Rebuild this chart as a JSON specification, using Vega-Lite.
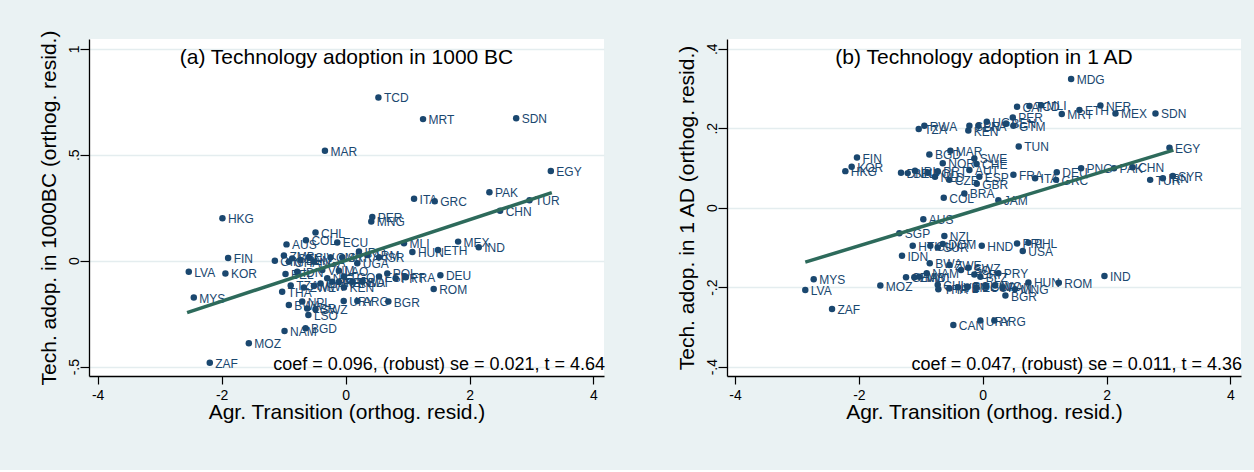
{
  "$schema": "https://vega.github.io/schema/vega-lite/v6.json",
  "background": "#EAF2F3",
  "padding": {"left": 38, "top": 30, "right": 14, "bottom": 48},
  "spacing": 71,
  "config": {
    "font": "Liberation Sans",
    "view": {"fill": "white", "stroke": null},
    "axis": {
      "domainColor": "#000000",
      "domainWidth": 1.3,
      "tickColor": "#000000",
      "tickWidth": 1.2,
      "labelColor": "#000000",
      "titleColor": "#000000",
      "labelFontSize": 14,
      "titleFontSize": 21,
      "titleFontWeight": "normal",
      "gridColor": "#E4EDEF",
      "gridWidth": 1.3
    }
  },
  "datasets": {
    "a": [
      {"code": "TCD", "x": 0.53, "y": 0.77},
      {"code": "MRT", "x": 1.25, "y": 0.668},
      {"code": "SDN", "x": 2.753, "y": 0.672},
      {"code": "MAR", "x": -0.333, "y": 0.519},
      {"code": "EGY", "x": 3.312, "y": 0.423},
      {"code": "PAK", "x": 2.321, "y": 0.323},
      {"code": "TUR", "x": 2.968, "y": 0.285},
      {"code": "CHN", "x": 2.494, "y": 0.236},
      {"code": "ITA", "x": 1.105, "y": 0.292},
      {"code": "GRC", "x": 1.438, "y": 0.28},
      {"code": "PER", "x": 0.431, "y": 0.206},
      {"code": "MNG", "x": 0.415, "y": 0.185},
      {"code": "HKG", "x": -1.987, "y": 0.2},
      {"code": "CHL", "x": -0.485, "y": 0.133},
      {"code": "COL", "x": -0.64, "y": 0.097},
      {"code": "ECU", "x": -0.134, "y": 0.086},
      {"code": "AUS", "x": -0.953, "y": 0.077},
      {"code": "MLI", "x": 0.943, "y": 0.082},
      {"code": "HUN", "x": 1.078, "y": 0.041},
      {"code": "ETH", "x": 1.492, "y": 0.05},
      {"code": "MEX", "x": 1.816, "y": 0.09},
      {"code": "IND", "x": 2.149, "y": 0.063},
      {"code": "FIN", "x": -1.895, "y": 0.013},
      {"code": "LVA", "x": -2.53, "y": -0.052},
      {"code": "KOR", "x": -1.939, "y": -0.06},
      {"code": "MYS", "x": -2.449, "y": -0.174},
      {"code": "MOZ", "x": -1.561, "y": -0.39},
      {"code": "ZAF", "x": -2.191, "y": -0.481},
      {"code": "NAM", "x": -0.985, "y": -0.332},
      {"code": "BGD", "x": -0.646, "y": -0.319},
      {"code": "LSO", "x": -0.6, "y": -0.256},
      {"code": "SWZ", "x": -0.485, "y": -0.229},
      {"code": "BWA", "x": -0.915, "y": -0.209},
      {"code": "NPL", "x": -0.7, "y": -0.193},
      {"code": "LBR", "x": -0.619, "y": -0.225},
      {"code": "THA", "x": -1.023, "y": -0.146},
      {"code": "URY", "x": -0.03, "y": -0.19},
      {"code": "ARG", "x": 0.19, "y": -0.19},
      {"code": "BGR", "x": 0.69, "y": -0.193},
      {"code": "ROM", "x": 1.422, "y": -0.134},
      {"code": "DEU", "x": 1.53, "y": -0.069},
      {"code": "POL", "x": 0.673, "y": -0.06},
      {"code": "PRT", "x": 0.808, "y": -0.083},
      {"code": "FRA", "x": 0.97, "y": -0.078},
      {"code": "KEN", "x": -0.026, "y": -0.126},
      {"code": "LAO", "x": -0.108, "y": -0.047},
      {"code": "UGA", "x": 0.189, "y": -0.012},
      {"code": "ZMB", "x": -0.995, "y": 0.024},
      {"code": "GIN", "x": -1.141, "y": 0.0},
      {"code": "GHA", "x": -0.915, "y": -0.005},
      {"code": "SEN", "x": -0.861, "y": 0.011},
      {"code": "BEN", "x": -0.727, "y": 0.003},
      {"code": "CIV", "x": -0.591, "y": 0.016},
      {"code": "NGA", "x": -0.511, "y": -0.005},
      {"code": "CMR", "x": -0.242, "y": 0.016},
      {"code": "SYR", "x": -0.053, "y": 0.016},
      {"code": "IRQ", "x": 0.216, "y": 0.043},
      {"code": "ARM", "x": 0.351, "y": 0.027},
      {"code": "ISR", "x": 0.54, "y": 0.016},
      {"code": "BEL", "x": -0.969, "y": -0.063},
      {"code": "IDN", "x": -0.78, "y": -0.052},
      {"code": "VNM", "x": -0.376, "y": -0.044},
      {"code": "NIC", "x": -0.296, "y": -0.083},
      {"code": "TZA", "x": -0.885, "y": -0.117},
      {"code": "ZWE", "x": -0.672, "y": -0.126},
      {"code": "MWI", "x": -0.511, "y": -0.119},
      {"code": "CAF", "x": -0.404, "y": -0.107},
      {"code": "BFA", "x": -0.215, "y": -0.099},
      {"code": "NER", "x": -0.107, "y": -0.099},
      {"code": "RWA", "x": 0.108, "y": -0.099},
      {"code": "BDI", "x": 0.27, "y": -0.099},
      {"code": "ESP", "x": 0.54, "y": -0.075},
      {"code": "TGO", "x": -0.026, "y": -0.075}
    ],
    "b": [
      {"code": "MDG", "x": 1.427, "y": 0.324},
      {"code": "NER", "x": 1.9, "y": 0.257},
      {"code": "ETH", "x": 1.561, "y": 0.246},
      {"code": "MEX", "x": 2.143, "y": 0.237},
      {"code": "SDN", "x": 2.789, "y": 0.237},
      {"code": "MRT", "x": 1.276, "y": 0.236},
      {"code": "MLI", "x": 0.942, "y": 0.258},
      {"code": "TCD", "x": 0.754, "y": 0.256},
      {"code": "CAF", "x": 0.554, "y": 0.254},
      {"code": "PER", "x": 0.485, "y": 0.227},
      {"code": "UGA", "x": 0.065, "y": 0.216},
      {"code": "GTM", "x": 0.495, "y": 0.206},
      {"code": "BEN", "x": 0.376, "y": 0.212},
      {"code": "SEN", "x": -0.216, "y": 0.206},
      {"code": "BFA", "x": -0.071, "y": 0.206},
      {"code": "KEN", "x": -0.233, "y": 0.194},
      {"code": "RWA", "x": -0.943, "y": 0.206},
      {"code": "TZA", "x": -1.034, "y": 0.198},
      {"code": "TUN", "x": 0.581, "y": 0.154},
      {"code": "EGY", "x": 3.015, "y": 0.151},
      {"code": "CHN", "x": 2.42, "y": 0.102},
      {"code": "PAK", "x": 2.12, "y": 0.099},
      {"code": "TUR", "x": 2.703, "y": 0.07},
      {"code": "IRN", "x": 2.908, "y": 0.074},
      {"code": "SYR", "x": 3.069, "y": 0.08},
      {"code": "PNG", "x": 1.588, "y": 0.099},
      {"code": "DEU", "x": 1.195, "y": 0.089},
      {"code": "GRC", "x": 1.184, "y": 0.07},
      {"code": "ITA", "x": 0.845, "y": 0.074},
      {"code": "FRA", "x": 0.495, "y": 0.083},
      {"code": "ESP", "x": -0.055, "y": 0.078},
      {"code": "GBR", "x": -0.097, "y": 0.06},
      {"code": "BRA", "x": -0.297, "y": 0.036},
      {"code": "COL", "x": -0.63, "y": 0.025},
      {"code": "JAM", "x": 0.252, "y": 0.019},
      {"code": "MAR", "x": -0.523, "y": 0.143},
      {"code": "BGD", "x": -0.862, "y": 0.134},
      {"code": "NOR", "x": -0.646, "y": 0.112},
      {"code": "SWE", "x": -0.136, "y": 0.124},
      {"code": "CHE", "x": -0.1, "y": 0.11},
      {"code": "AUT", "x": -0.216, "y": 0.095},
      {"code": "FIN", "x": -2.031, "y": 0.126},
      {"code": "KOR", "x": -2.117, "y": 0.103},
      {"code": "HKG", "x": -2.219, "y": 0.092},
      {"code": "DNK", "x": -1.32, "y": 0.088},
      {"code": "BEL", "x": -1.212, "y": 0.087},
      {"code": "IRL", "x": -1.094, "y": 0.093},
      {"code": "POL", "x": -0.889, "y": 0.088},
      {"code": "NLD", "x": -0.771, "y": 0.078},
      {"code": "PRT", "x": -0.727, "y": 0.092},
      {"code": "CZE", "x": -0.54, "y": 0.07},
      {"code": "AUS", "x": -0.96, "y": -0.029},
      {"code": "SGP", "x": -1.347, "y": -0.064},
      {"code": "NZL", "x": -0.62, "y": -0.071},
      {"code": "HTI", "x": -1.131, "y": -0.096},
      {"code": "DOM", "x": -0.646, "y": -0.091},
      {"code": "GUY", "x": -0.847, "y": -0.096},
      {"code": "SUR", "x": -0.727, "y": -0.1},
      {"code": "HND", "x": -0.016, "y": -0.096},
      {"code": "PRI", "x": 0.554, "y": -0.09},
      {"code": "PHL", "x": 0.737, "y": -0.088},
      {"code": "USA", "x": 0.646, "y": -0.109},
      {"code": "IDN", "x": -1.304, "y": -0.121},
      {"code": "BWA", "x": -0.856, "y": -0.14},
      {"code": "ZWE", "x": -0.539, "y": -0.144},
      {"code": "NAM", "x": -0.905, "y": -0.165},
      {"code": "MWI", "x": -1.024, "y": -0.174},
      {"code": "ZMB", "x": -1.105, "y": -0.175},
      {"code": "GHA", "x": -1.239, "y": -0.175},
      {"code": "MYS", "x": -2.73, "y": -0.18},
      {"code": "LVA", "x": -2.866, "y": -0.207},
      {"code": "MOZ", "x": -1.654, "y": -0.196},
      {"code": "ZAF", "x": -2.434, "y": -0.255},
      {"code": "CAN", "x": -0.475, "y": -0.295},
      {"code": "URY", "x": -0.039, "y": -0.284},
      {"code": "ARG", "x": 0.187, "y": -0.284},
      {"code": "IND", "x": 1.965, "y": -0.172},
      {"code": "HUN", "x": 0.737, "y": -0.188},
      {"code": "ROM", "x": 1.228, "y": -0.189},
      {"code": "MNG", "x": 0.522, "y": -0.205},
      {"code": "BGR", "x": 0.366, "y": -0.221},
      {"code": "PRY", "x": 0.252, "y": -0.165},
      {"code": "SWZ", "x": -0.233, "y": -0.151},
      {"code": "LSO", "x": -0.351, "y": -0.157},
      {"code": "BLZ", "x": -0.039, "y": -0.174},
      {"code": "CRI", "x": -0.136, "y": -0.168},
      {"code": "CHL", "x": -0.727, "y": -0.194},
      {"code": "THA", "x": -0.717, "y": -0.205},
      {"code": "NPL", "x": -0.54, "y": -0.203},
      {"code": "VEN", "x": -0.4, "y": -0.2},
      {"code": "BOL", "x": -0.25, "y": -0.198},
      {"code": "ECU", "x": -0.1, "y": -0.2},
      {"code": "SLV", "x": 0.05, "y": -0.198},
      {"code": "NIC", "x": 0.2, "y": -0.196},
      {"code": "PAN", "x": 0.32, "y": -0.2}
    ],
    "fitA": [{"x": -2.557, "y": -0.245}, {"x": 3.328, "y": 0.321}],
    "fitB": [{"x": -2.866, "y": -0.137}, {"x": 3.079, "y": 0.145}],
    "statA": [{"label": "coef = 0.096, (robust) se = 0.021, t = 4.64"}],
    "statB": [{"label": "coef = 0.047, (robust) se = 0.011, t = 4.36"}]
  },
  "hconcat": [
    {
      "width": 515,
      "height": 337,
      "title": {"text": "(a) Technology adoption in 1000 BC", "offset": -55, "baseline": "alphabetic", "fontSize": 21, "fontWeight": "normal", "anchor": "middle", "frame": "group", "color": "#000000"},
      "layer": [
        {
          "data": {"name": "a"},
          "mark": {"type": "circle", "size": 42, "color": "#1A476F", "opacity": 1},
          "encoding": {
            "x": {"field": "x", "type": "quantitative", "scale": {"domain": [-4.14, 4.17], "nice": false, "zero": false},
              "axis": {"values": [-4, -2, 0, 2, 4], "labelExpr": "toString(datum.value)", "title": "Agr. Transition (orthog. resid.)", "grid": false, "tickSize": 8, "labelPadding": 4, "titlePadding": -1}},
            "y": {"field": "y", "type": "quantitative", "scale": {"domain": [-0.544, 1.046], "nice": false, "zero": false},
              "axis": {"values": [-0.5, 0, 0.5, 1], "labelExpr": "replace(toString(datum.value), '0.', '.')", "labelAngle": 270, "labelAlign": "center", "labelBaseline": "alphabetic", "tickSize": 9, "labelPadding": 2, "grid": true, "title": "Tech. adop. in 1000BC (orthog. resid.)", "titlePadding": 8}}
          }
        },
        {
          "data": {"name": "a"},
          "mark": {"type": "text", "align": "left", "baseline": "middle", "dx": 5.5, "dy": 1, "fontSize": 12, "color": "#1A476F"},
          "encoding": {
            "x": {"field": "x", "type": "quantitative"},
            "y": {"field": "y", "type": "quantitative"},
            "text": {"field": "code"}
          }
        },
        {
          "data": {"name": "fitA"},
          "mark": {"type": "line", "color": "#2D6A5B", "strokeWidth": 3.5},
          "encoding": {
            "x": {"field": "x", "type": "quantitative"},
            "y": {"field": "y", "type": "quantitative"}
          }
        },
        {
          "data": {"name": "statA"},
          "mark": {"type": "text", "align": "right", "baseline": "alphabetic", "fontSize": 18, "dx": 1, "dy": -6.5, "color": "#000000"},
          "encoding": {
            "x": {"value": "width"},
            "y": {"value": "height"},
            "text": {"field": "label"}
          }
        }
      ]
    },
    {
      "width": 514,
      "height": 337,
      "title": {"text": "(b) Technology adoption in 1 AD", "offset": -46, "baseline": "alphabetic", "fontSize": 21, "fontWeight": "normal", "anchor": "middle", "frame": "group", "color": "#000000"},
      "layer": [
        {
          "data": {"name": "b"},
          "mark": {"type": "circle", "size": 42, "color": "#1A476F", "opacity": 1},
          "encoding": {
            "x": {"field": "x", "type": "quantitative", "scale": {"domain": [-4.13, 4.17], "nice": false, "zero": false},
              "axis": {"values": [-4, -2, 0, 2, 4], "labelExpr": "toString(datum.value)", "title": "Agr. Transition (orthog. resid.)", "grid": false, "tickSize": 8, "labelPadding": 4, "titlePadding": -1}},
            "y": {"field": "y", "type": "quantitative", "scale": {"domain": [-0.4234, 0.4244], "nice": false, "zero": false},
              "axis": {"values": [-0.4, -0.2, 0, 0.2, 0.4], "labelExpr": "replace(toString(datum.value), '0.', '.')", "labelAngle": 270, "labelAlign": "center", "labelBaseline": "alphabetic", "tickSize": 9, "labelPadding": 2, "grid": true, "title": "Tech. adop. in 1 AD (orthog. resid.)", "titlePadding": 8}}
          }
        },
        {
          "data": {"name": "b"},
          "mark": {"type": "text", "align": "left", "baseline": "middle", "dx": 5.5, "dy": 1, "fontSize": 12, "color": "#1A476F"},
          "encoding": {
            "x": {"field": "x", "type": "quantitative"},
            "y": {"field": "y", "type": "quantitative"},
            "text": {"field": "code"}
          }
        },
        {
          "data": {"name": "fitB"},
          "mark": {"type": "line", "color": "#2D6A5B", "strokeWidth": 3.5},
          "encoding": {
            "x": {"field": "x", "type": "quantitative"},
            "y": {"field": "y", "type": "quantitative"}
          }
        },
        {
          "data": {"name": "statB"},
          "mark": {"type": "text", "align": "right", "baseline": "alphabetic", "fontSize": 18, "dx": 1, "dy": -6.5, "color": "#000000"},
          "encoding": {
            "x": {"value": "width"},
            "y": {"value": "height"},
            "text": {"field": "label"}
          }
        }
      ]
    }
  ]
}
